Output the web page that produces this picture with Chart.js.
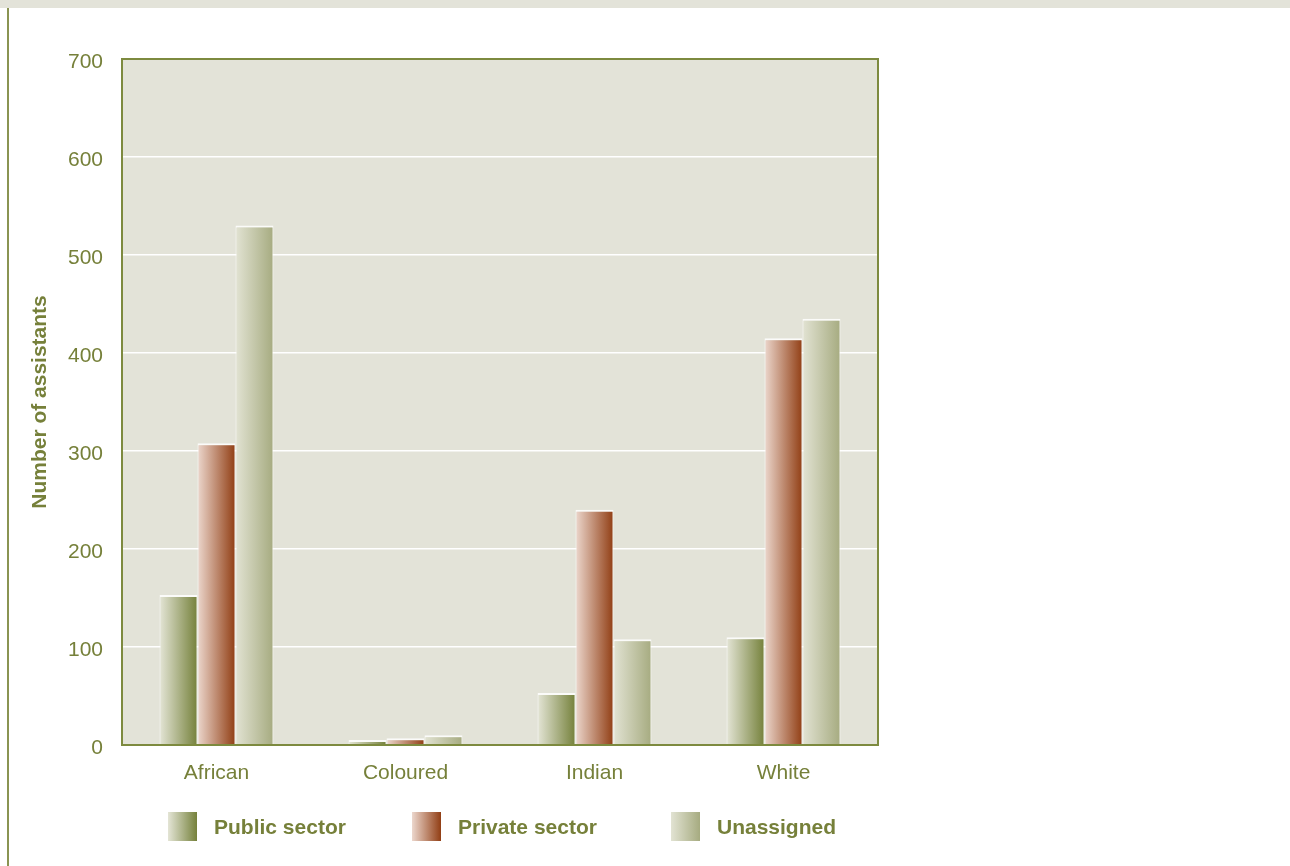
<!DOCTYPE html>
<html>
<head>
<meta charset="utf-8">
<script src="https://cdn.jsdelivr.net/npm/chart.js@4/dist/chart.umd.min.js"></script>
<style>
  html, body { margin: 0; padding: 0; background: #fff; }
  body { width: 1290px; height: 866px; position: relative; overflow: hidden; font-family: "Liberation Sans", Arial, sans-serif; }
  #band { position: absolute; left: 0; top: 0; width: 1290px; height: 8px; background: #e3e3d9; }
  #edge { position: absolute; left: 7px; top: 8px; width: 2px; height: 858px; background: #8a9452; }
  #wrap { position: absolute; left: 0; top: 0; width: 1290px; height: 866px; }
  .leg { position: absolute; top: 812px; height: 29px; display: flex; align-items: center; }
  .leg .box { width: 29px; height: 29px; }
  .leg span { font-weight: bold; font-size: 21px; color: #76803a; margin-left: 17px; }
</style>
</head>
<body>
<div id="band"></div>
<div id="edge"></div>
<div id="wrap"><canvas id="chart" width="1290" height="866"></canvas></div>
<div class="leg" style="left:168px"><div class="box" style="background:linear-gradient(to right,#e4e5d6,#75813b)"></div><span>Public sector</span></div>
<div class="leg" style="left:412px"><div class="box" style="background:linear-gradient(to right,#ecd7cd,#913e14)"></div><span>Private sector</span></div>
<div class="leg" style="left:671px"><div class="box" style="background:linear-gradient(to right,#e2e3d3,#a6ab80)"></div><span>Unassigned</span></div>
<script>
// data
const categories = ['African', 'Coloured', 'Indian', 'White'];
const publicSector = [153, 5, 53, 110];
const privateSector = [308, 7, 240, 415];
const unassigned = [530, 10, 108, 435];
const yTicks = [0, 100, 200, 300, 400, 500, 600, 700];

const OLIVE = '#76803a';
const CAT_PCT = 0.603;

// gradient across each single bar, left light -> right dark
function barGradient(ctx, light, dark) {
  const chart = ctx.chart;
  const xs = chart.scales.x;
  if (!chart.chartArea || !xs || ctx.dataIndex === undefined) return dark;
  const catW = xs.width / categories.length;
  const groupW = catW * CAT_PCT;
  const barW = groupW / 3;
  const center = xs.getPixelForValue(ctx.dataIndex);
  const x0 = center - groupW / 2 + ctx.datasetIndex * barW;
  const g = chart.ctx.createLinearGradient(x0, 0, x0 + barW, 0);
  g.addColorStop(0, light);
  g.addColorStop(1, dark);
  return g;
}

const framePlugin = {
  id: 'frame',
  beforeDraw(chart) {
    const a = chart.chartArea, c = chart.ctx;
    c.save();
    c.fillStyle = '#e3e3d8';
    c.fillRect(a.left, a.top, a.right - a.left, a.bottom - a.top);
    c.restore();
  },
  afterDatasetsDraw(chart) {
    const a = chart.chartArea, c = chart.ctx;
    c.save();
    c.strokeStyle = '#7d8a3f';
    c.lineWidth = 2;
    c.strokeRect(a.left, a.top, a.right - a.left, a.bottom - a.top);
    c.restore();
  }
};

const barBorder = { top: 2, left: 1, right: 1, bottom: 0 };

new Chart(document.getElementById('chart'), {
  type: 'bar',
  data: {
    labels: categories,
    datasets: [
      { label: 'Public sector', data: publicSector, backgroundColor: c => barGradient(c, '#e4e5d6', '#75813b') },
      { label: 'Private sector', data: privateSector, backgroundColor: c => barGradient(c, '#ecd7cd', '#913e14') },
      { label: 'Unassigned', data: unassigned, backgroundColor: c => barGradient(c, '#e2e3d3', '#a6ab80') }
    ].map(d => Object.assign(d, {
      borderColor: 'rgba(255,255,255,0.85)',
      borderWidth: barBorder,
      borderSkipped: 'start',
      categoryPercentage: CAT_PCT,
      barPercentage: 1
    }))
  },
  options: {
    responsive: false,
    animation: false,
    layout: { padding: { top: 59, left: 28, right: 412, bottom: 81 } },
    plugins: { legend: { display: false }, tooltip: { enabled: false } },
    scales: {
      x: {
        grid: { display: false },
        border: { display: false },
        ticks: { color: OLIVE, font: { family: 'Liberation Sans', size: 21 }, padding: 8 },
        afterFit(s) { s.height = 40; }
      },
      y: {
        min: 0,
        max: 700,
        afterBuildTicks(s) { s.ticks = yTicks.map(v => ({ value: v })); },
        grid: { color: '#ffffff', lineWidth: 1.5, drawTicks: false },
        border: { display: false },
        ticks: { color: OLIVE, font: { family: 'Liberation Sans', size: 21 }, padding: 19, labelOffset: 3 },
        title: {
          display: true,
          text: 'Number of assistants',
          color: OLIVE,
          font: { family: 'Liberation Sans', size: 21, weight: 'bold' },
          padding: 0
        },
        afterFit(s) { s.width = 94; }
      }
    }
  },
  plugins: [framePlugin]
});
</script>
</body>
</html>
